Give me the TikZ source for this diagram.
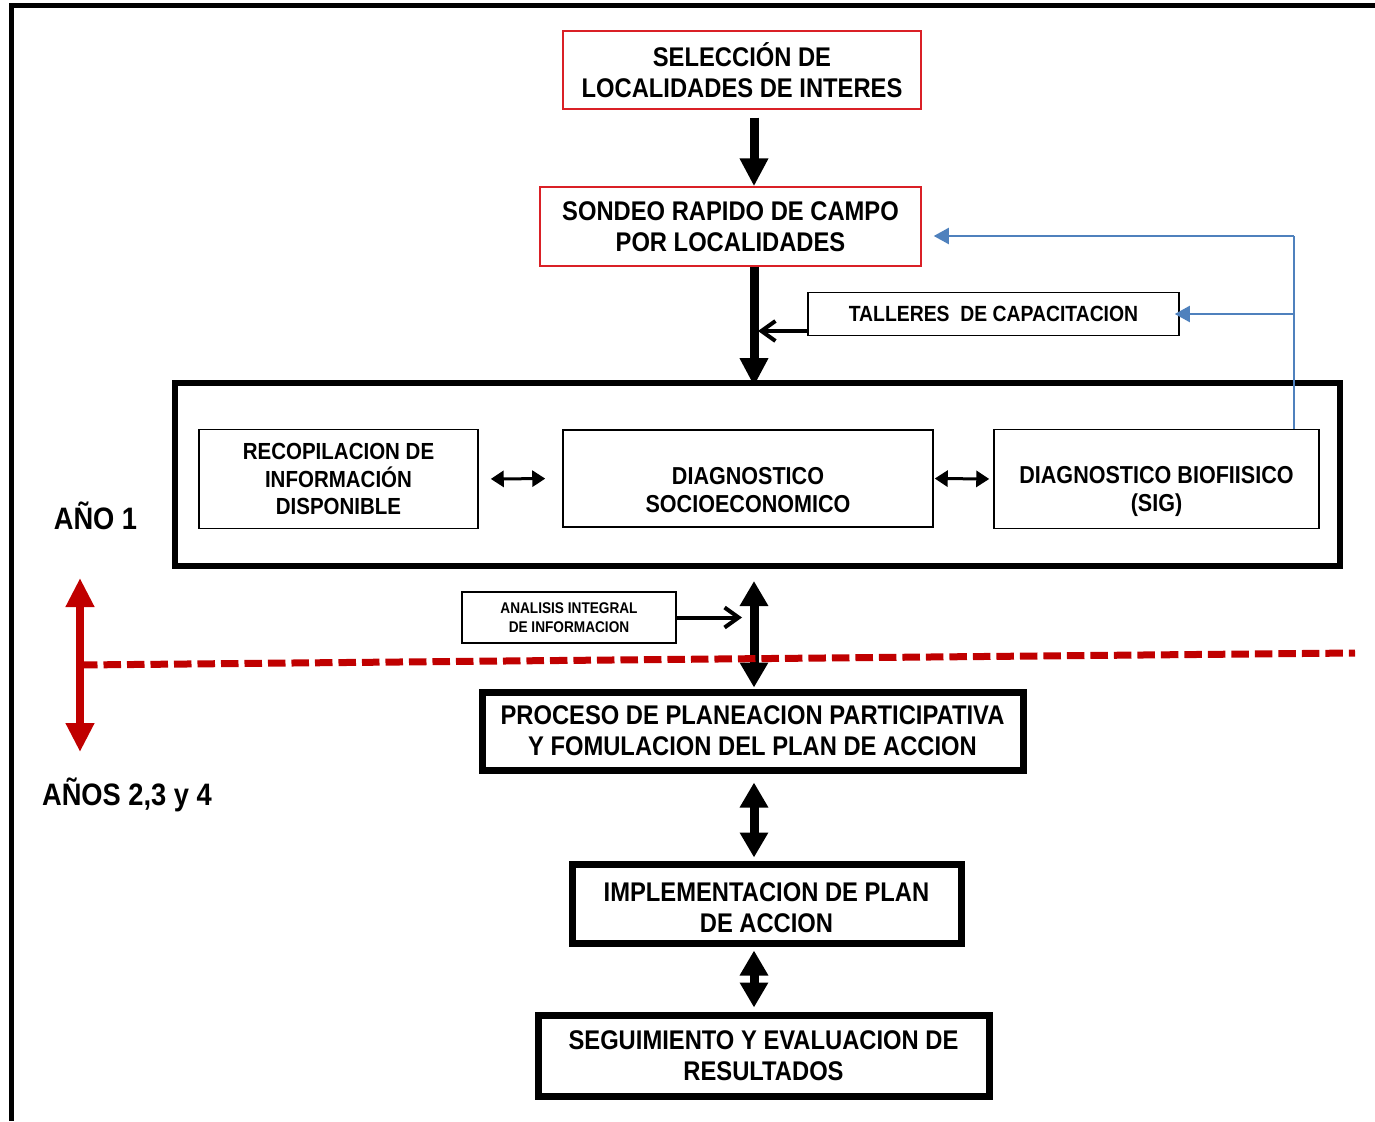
\documentclass[tikz,border=0pt]{standalone}
\usepackage{fontspec}
\newfontfamily\lbl{Liberation Sans}[FakeStretch=0.88]
\usetikzlibrary{arrows.meta,calc}
\definecolor{boxred}{RGB}{218,32,38}
\definecolor{darkred}{RGB}{192,0,0}
\definecolor{linkblue}{RGB}{79,129,189}

\begin{document}
\begin{tikzpicture}[x=1pt,y=-1pt,
  txtbig/.style={font=\lbl\bfseries\fontsize{27}{31}\selectfont, align=center},
  txtmid/.style={font=\lbl\bfseries\fontsize{24.5}{28}\selectfont, align=center},
  txtsmall/.style={font=\lbl\bfseries\fontsize{15.5}{19}\selectfont, align=center},
  redbox/.style={draw=boxred, line width=1.5pt, inner sep=0pt, txtbig},
  thinbox/.style={draw=black, line width=1.5pt, inner sep=0pt},
  thickbox/.style={draw=black, line width=7pt, inner sep=0pt, txtbig},
  framebox/.style={draw=black, line width=6pt, inner sep=0pt},
  yearlabel/.style={font=\lbl\bfseries\fontsize{31}{35}\selectfont, anchor=base},
  downarrow/.style={line width=9pt, -{Triangle[width=27pt,length=28pt]}},
  twoway/.style={line width=9pt, {Triangle[width=27pt,length=25pt]}-{Triangle[width=27pt,length=25pt]}},
  sideway/.style={line width=3pt, {Triangle[width=16pt,length=13pt]}-{Triangle[width=16pt,length=13pt]}},
  barbarrow/.style={line width=4pt, -{Straight Barb[width=20pt,length=14pt]}},
  bluelink/.style={draw=linkblue, line width=2pt},
  bluetip/.style={-{Triangle[width=16pt,length=15pt]}},
  yeararrow/.style={draw=darkred, line width=8pt, {Triangle[width=27pt,length=29pt]}-{Triangle[width=27pt,length=29pt]}},
  yeardash/.style={draw=darkred, line width=7pt, dash pattern=on 17.5pt off 6pt},
]
\useasboundingbox (0,0) rectangle (1375,1121);

% page frame (left and top edges)
\draw[line width=5pt] (11.5,1121) -- (11.5,6) -- (1375,6);

% vertical axis of the main flow
\coordinate (axis) at (754,0);

% top stages
\node[redbox, minimum width=358pt, minimum height=78pt] (sel) at (742,70)
  {SELECCIÓN DE\\LOCALIDADES DE INTERES};
\node[redbox, minimum width=381pt, minimum height=79pt] (son) at (730.5,226.5)
  {SONDEO RAPIDO DE CAMPO\\POR LOCALIDADES};
\node[thinbox, minimum width=371pt, minimum height=43pt,
      font=\lbl\bfseries\fontsize{22}{26}\selectfont] (tal) at (993.5,314)
  {TALLERES~~DE CAPACITACION};

% year 1 block
\node[framebox, minimum width=1165pt, minimum height=183pt] (big) at (757.5,474.5) {};
\node[thinbox, txtmid, minimum width=279pt, minimum height=99pt,
      font=\lbl\bfseries\fontsize{23.3}{27.5}\selectfont] (rec) at (338.5,479)
  {RECOPILACION DE\\INFORMACIÓN\\DISPONIBLE};
\node[thinbox, minimum width=370pt, minimum height=97pt] (soc) at (748,478.5) {};
\node[txtmid] (soctext) at ([yshift=-12pt]soc.center)
  {DIAGNOSTICO\\SOCIOECONOMICO};
\node[thinbox, minimum width=325pt, minimum height=99pt] (bio) at (1156.5,479) {};
\node[txtmid] (biotext) at ([yshift=-12pt]bio.center)
  {DIAGNOSTICO BIOFIISICO\\(SIG)};

\node[thinbox, txtsmall, minimum width=214pt, minimum height=51pt] (ana) at (569,617.5)
  {ANALISIS INTEGRAL\\DE INFORMACION};

% years 2 to 4
\node[thickbox, minimum width=541pt, minimum height=78pt] (pro) at (752.5,731)
  {PROCESO DE PLANEACION PARTICIPATIVA\\Y FOMULACION DEL PLAN DE ACCION};
\node[thickbox, minimum width=389pt, minimum height=79pt] (imp) at (766.5,903.5) {};
\node[txtbig] (imptext) at ([yshift=-4pt]imp.center)
  {IMPLEMENTACION DE PLAN\\DE ACCION};
\node[thickbox, minimum width=451pt, minimum height=81pt] (seg) at (763.5,1055.5)
  {SEGUIMIENTO Y EVALUACION DE\\RESULTADOS};

% year labels
\node[yearlabel] (ano1) at (95.5,529) {AÑO 1};
\node[yearlabel] (ano2) at (127,805) {AÑOS 2,3 y 4};

% main flow arrows
\draw[downarrow, shorten <=8pt] (sel.south -| axis) -- (son.north -| axis);
\draw[downarrow, shorten >=-6pt] (son.south -| axis) -- (big.north -| axis);
\coordinate (talend) at (758,331);
\draw[barbarrow] (tal.west |- talend) -- (talend);

\draw[twoway, shorten <=12pt, shorten >=1pt] (big.south -| axis) -- (pro.north -| axis);
\draw[twoway, shorten <=9pt, shorten >=3pt] (pro.south -| axis) -- (imp.north -| axis);
\draw[twoway, shorten <=4pt, shorten >=4pt] (imp.south -| axis) -- (seg.north -| axis);
\draw[barbarrow, shorten >=12pt] (ana.east) -- (ana.east -| axis);

% links inside the year 1 block
\draw[sideway, shorten <=12pt, shorten >=17pt] (rec.east) -- (soc.west);
\draw[sideway, shorten <=1pt, shorten >=4pt] (soc.east) -- (bio.west);

% feedback from the biophysical diagnosis
\coordinate (bj) at (1294,236);
\draw[bluelink] (bio.north -| bj) -- (bj);
\draw[bluelink, bluetip, shorten >=12pt] (bj) -- (son.east |- bj);
\draw[bluelink, bluetip, shorten >=-5pt] (bj |- tal.east) -- (tal.east);

% year divider
\coordinate (rtop) at (80,578);
\coordinate (rbot) at (80,752);
\coordinate (dl) at (80,665);
\coordinate (dr) at (1355,653);
\draw[yeardash] (dl) -- (dr);
\draw[yeararrow] (rtop) -- (rbot);
\end{tikzpicture}
\end{document}
